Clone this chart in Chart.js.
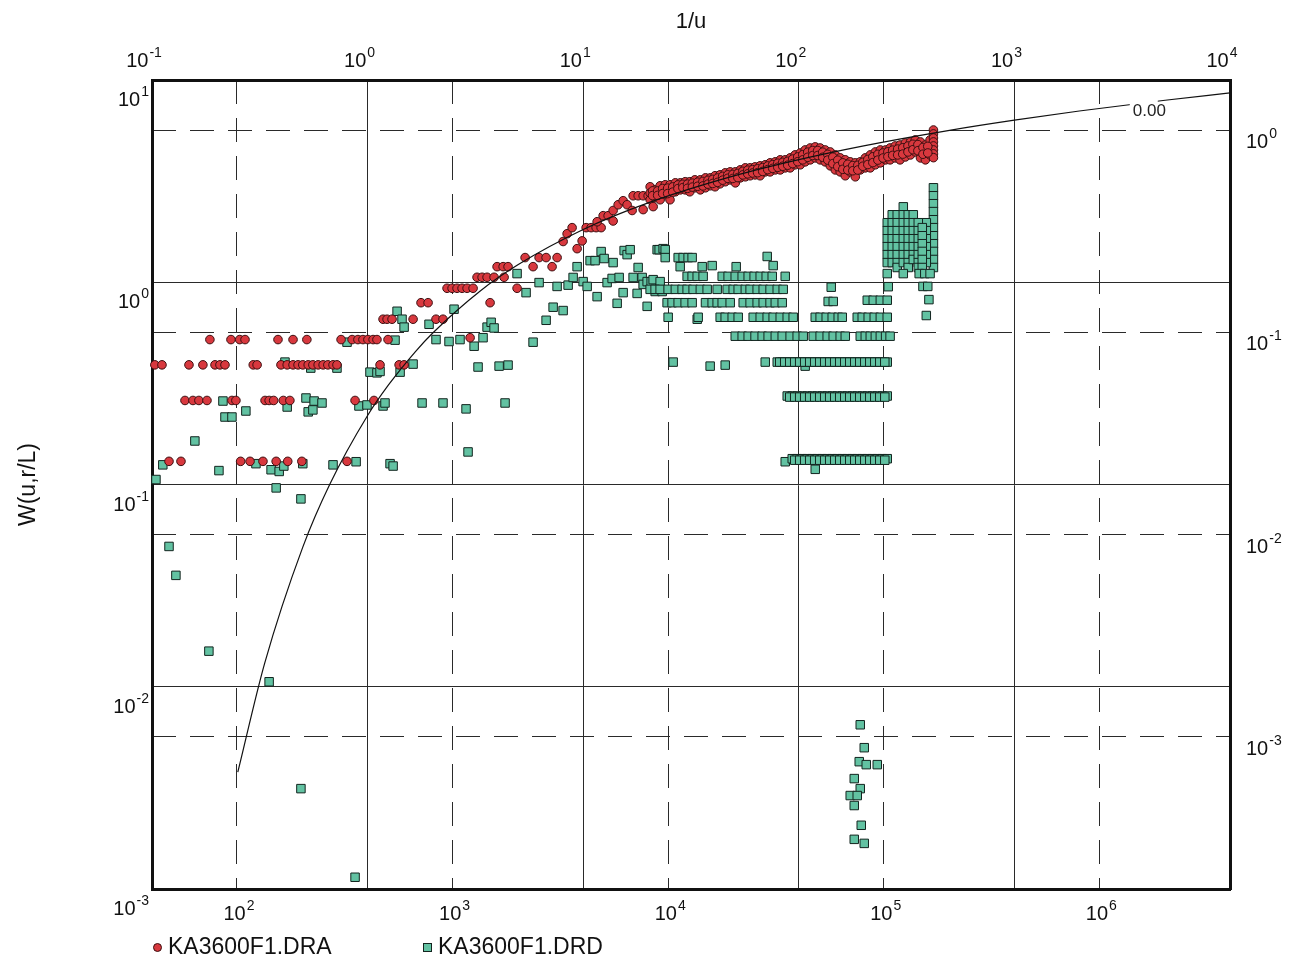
<!DOCTYPE html>
<html>
<head>
<meta charset="utf-8">
<title>KA3600F1 type curve</title>
<script src="https://cdn.jsdelivr.net/npm/chart.js"></script>
<style>
  body { margin: 0; background: #fff; }
  #wrap { position: relative; width: 1308px; height: 960px; }
  .lg { position: absolute; font: 23px "Liberation Sans", Arial, sans-serif; line-height: 23px; color: #111; }
  .mk { position: absolute; width: 7px; height: 7px; }
  .dot { border-radius: 50%; background: #d8383e; border: 1px solid #3b0f10; }
  .sq { background: #62c2a2; border: 1px solid #13251f; }
</style>
</head>
<body>
<div id="wrap">
  <canvas id="chart"></canvas>
  <span class="mk dot" style="left:153px;top:943px"></span>
  <span class="lg" style="left:168px;top:935px">KA3600F1.DRA</span>
  <span class="mk sq" style="left:423px;top:943px"></span>
  <span class="lg" style="left:438px;top:935px">KA3600F1.DRD</span>
</div>
<script>
// axis ranges and decade ticks
const timeTicks = [1e2, 1e3, 1e4, 1e5, 1e6];
const invUTicks = [0.1, 1, 10, 100, 1000, 10000];
const wTicks = [0.001, 0.01, 0.1, 1, 10];
const drawdownTicks = [0.001, 0.01, 0.1, 1];

// Theis type curve (r/L = 0.00), 1/u vs W
const curveInvU = [0.25, 0.333, 0.5, 0.667, 1, 1.25, 1.667, 2, 3.33, 5, 10, 20, 50, 100, 200, 500, 1000, 2000, 5000, 10000];
const curveW = [0.00378, 0.01305, 0.0489, 0.100, 0.2194, 0.3106, 0.4544, 0.5598, 0.9057, 1.2227, 1.8229, 2.4679, 3.3547, 4.0379, 4.7261, 5.6394, 6.3315, 7.0242, 7.9402, 8.6332];

// KA3600F1.DRA : time (s), drawdown
const draEarly = [
  [74.9,0.092],[93.8,0.092],[103,0.092],[109,0.092],[155,0.092],[182,0.092],[211,0.092],[304,0.092],[342,0.092],[364,0.092],[384,0.092],[405,0.092],[428,0.092],[446,0.092],[502,0.092],
  [41.6,0.069],[44.9,0.069],[59.9,0.069],[69.5,0.069],[79.1,0.069],[83.4,0.069],[88,0.069],[119,0.069],[124,0.069],[160,0.069],[171,0.069],[182,0.069],[192,0.069],[202,0.069],[214,0.069],[225,0.069],[238,0.069],[251,0.069],[264,0.069],[279,0.069],[291,0.069],[461,0.069],[565,0.069],[596,0.069],
  [57.4,0.046],[62.5,0.046],[66.6,0.046],[72.6,0.046],[94.8,0.046],[98.9,0.046],[135,0.046],[141,0.046],[148,0.046],[164,0.046],[176,0.046],[353,0.046],[432,0.046],
  [48.4,0.023],[55,0.023],[104,0.023],[115,0.023],[132,0.023],[152,0.023],[172,0.023],[200,0.023],[324,0.023]
];
const draRise = [
  [476,0.116],[497,0.116],[524,0.116],[656,0.116],[838,0.116],[903,0.116],[714,0.14],[770,0.14],
  [943,0.165],[995,0.165],[1049,0.165],[1107,0.165],[1168,0.165],[1245,0.165],[1493,0.14],[1206,0.094],[1992,0.165],
  [1299,0.187],[1371,0.187],[1446,0.187],[1558,0.187],[1734,0.187],[1609,0.211],[1716,0.211],[1809,0.211],
  [2170,0.234],[2520,0.234],[2716,0.234],[3054,0.234],[2363,0.211],[2895,0.211],
  [3257,0.281],[3399,0.307],[3585,0.329],[3782,0.259],[3990,0.283],[4165,0.329],[4392,0.329],[4633,0.329],[4888,0.329],
  [4683,0.352],[4994,0.377],[5267,0.377],[5556,0.40],[5556,0.355],[5861,0.427],[6183,0.447],[6452,0.427],[6807,0.40],[7656,0.404],
  [6880,0.473],[7258,0.473],[7656,0.473],[8076,0.473],[8520,0.473]
];
const draLate = [
  [8250,0.524],[8250,0.488],[8250,0.452],[8520,0.418],[8700,0.506],[8700,0.485],[8700,0.463],
  [9180,0.530],[9180,0.49],[9180,0.452],[9690,0.536],[9690,0.507],[9690,0.479],
  [10200,0.536],[10200,0.494],[10200,0.452],[10800,0.548],[10800,0.521],[10800,0.495],
  [11400,0.548],[11400,0.527],[11400,0.506],[12000,0.555],[12000,0.53],[12000,0.506],
  [12600,0.555],[12600,0.525],[12600,0.495],[13300,0.567],[13300,0.542],[13300,0.518],
  [14100,0.567],[14100,0.536],[14100,0.506],[14900,0.580],[14900,0.549],[14900,0.518],
  [15700,0.580],[15700,0.555],[15700,0.530],[16500,0.594],[16500,0.559],[16500,0.524],
  [17400,0.600],[17400,0.571],[17400,0.542],[18400,0.614],[18400,0.584],[18400,0.555],
  [19400,0.621],[19400,0.594],[19400,0.567],[20500,0.621],[20500,0.584],[20500,0.548],
  [21600,0.635],[21600,0.607],[21600,0.580],[22800,0.650],[22800,0.618],[22800,0.587],
  [24000,0.650],[24000,0.622],[24000,0.594],[25300,0.657],[25300,0.628],[25300,0.600],
  [26700,0.665],[26700,0.63],[26700,0.594],[28200,0.673],[28200,0.647],[28200,0.621],
  [29700,0.688],[29700,0.654],[29700,0.621],[31400,0.696],[31400,0.665],[31400,0.635],
  [33100,0.712],[33100,0.673],[33100,0.635],[34900,0.712],[34900,0.681],[34900,0.650],
  [36800,0.728],[36800,0.689],[36800,0.650],[38800,0.753],[38800,0.713],[38800,0.673],
  [41000,0.770],[41000,0.72],[41000,0.673],[43200,0.797],[43200,0.746],[43200,0.696],
  [45600,0.815],[45600,0.763],[45600,0.712],[48100,0.825],[48100,0.776],[48100,0.728],
  [50700,0.815],[50700,0.763],[50700,0.712],[53500,0.797],[53500,0.746],[53500,0.696],
  [56500,0.779],[56500,0.722],[56500,0.665],[59600,0.753],[59600,0.694],[59600,0.635],
  [62800,0.728],[62800,0.674],[62800,0.621],[66300,0.712],[66300,0.653],[66300,0.594],
  [69900,0.696],[69900,0.658],[69900,0.621],[73800,0.688],[73800,0.637],[73800,0.587],
  [77800,0.696],[77800,0.665],[77800,0.635],[82100,0.728],[82100,0.689],[82100,0.650],
  [86600,0.753],[86600,0.70],[86600,0.650],[91400,0.779],[91400,0.726],[91400,0.673],
  [96400,0.797],[96400,0.742],[96400,0.688],[102000,0.797],[102000,0.754],[102000,0.712],
  [107000,0.815],[107000,0.763],[107000,0.712],[113000,0.834],[113000,0.781],[113000,0.728],
  [119000,0.843],[119000,0.777],[119000,0.712],[126000,0.863],[126000,0.80],[126000,0.736],
  [133000,0.873],[133000,0.813],[133000,0.753],[140000,0.893],[140000,0.836],[140000,0.779],
  [148000,0.873],[148000,0.80],[148000,0.728],[156000,0.843],[156000,0.777],[156000,0.712],
  [164000,0.893],[164000,0.823],[164000,0.753],
  [170000,1.0],[170000,0.956],[170000,0.913],[170000,0.873],[170000,0.834],[170000,0.797],[170000,0.762],[170000,0.73]
];
const draLateFill = [
  [8470,0.50],[8470,0.474],[8940,0.50],[8940,0.475],[9430,0.514],[9430,0.485],[9950,0.516],[9950,0.485],
  [10500,0.523],[10500,0.493],[11100,0.535],[11100,0.513],[11700,0.539],[11700,0.519],[12300,0.54],[12300,0.515],
  [12950,0.546],[12950,0.522],[13700,0.552],[13700,0.527],[14500,0.557],[14500,0.529],[15300,0.564],[15300,0.54],
  [16100,0.57],[16100,0.544],[16950,0.579],[16950,0.551],[17900,0.59],[17900,0.565],[18900,0.60],[18900,0.577],
  [19950,0.603],[19950,0.576],[21050,0.61],[21050,0.582],[22200,0.625],[22200,0.60],[23400,0.633],[23400,0.607],
  [24650,0.637],[24650,0.613],[26000,0.643],[26000,0.615],[27450,0.652],[27450,0.624],[28950,0.664],[28950,0.637],
  [30550,0.674],[30550,0.646],[32250,0.685],[32250,0.654],[34000,0.692],[34000,0.662],[35850,0.70],[35850,0.67],
  [37800,0.718],[37800,0.682],[39900,0.736],[39900,0.697],[42100,0.755],[42100,0.712],[44400,0.777],[44400,0.733],
  [46850,0.792],[46850,0.748],[49400,0.792],[49400,0.748],[52100,0.777],[52100,0.733],[55000,0.758],[55000,0.71],
  [58050,0.734],[58050,0.682],[61200,0.709],[61200,0.659],[64550,0.688],[64550,0.639],[68100,0.677],[68100,0.634],
  [71850,0.667],[71850,0.629],[75800,0.669],[75800,0.634],[79950,0.692],[79950,0.662],[84350,0.715],[84350,0.675],
  [89000,0.737],[89000,0.69],[93900,0.758],[93900,0.71],[99200,0.77],[99200,0.727],[104500,0.78],[104500,0.738],
  [110000,0.795],[110000,0.749],[116000,0.805],[116000,0.753],[122500,0.817],[122500,0.76],[129500,0.833],[129500,0.779],
  [136500,0.85],[136500,0.799],[144000,0.847],[144000,0.79],[152000,0.82],[152000,0.759],[160000,0.83],[160000,0.77]
];

// KA3600F1.DRD : time (s), drawdown
const drdScatter = [
  [42.1,0.0187],[45.3,0.0221],[48.4,0.00873],[52.1,0.00628],[63.8,0.029],[74.1,0.00265],[82.5,0.0207],[86.1,0.0457],[88,0.0381],[94.8,0.0381],
  [110,0.0408],[122.5,0.0224],[141,0.00187],[144,0.0209],[152,0.017],[157,0.0205],[165,0.0218],[167,0.0712],[171,0.0427],[198,0.015],[198,0.000554],
  [202,0.0224],[209,0.0473],[214,0.0404],[220,0.0665],[225,0.0413],[228,0.0457],[248,0.0447],[279,0.0221],[291,0.0665],[324,0.0893],[353,0.000202],
  [357,0.0229],[368,0.0432],[401,0.0437],[414,0.0635],[446,0.063],[461,0.064],[476,0.0432],[486,0.0447],[513,0.0224],[530,0.0218],[541,0.0914],
  [553,0.127],[571,0.0635],[583,0.116],[596,0.106],[656,0.0696],[722,0.0447],[778,0.1095],[838,0.092],[903,0.0447],[963,0.09],[1016,0.13],
  [1083,0.092],[1155,0.0418],[1180,0.0256],[1259,0.0853],[1313,0.0673],[1385,0.094],[1446,0.106],[1510,0.112],[1558,0.105],[1644,0.068],
  [1752,0.0447],[1809,0.0688],[1992,0.195],[2193,0.157],[2363,0.0893],[2520,0.176],[2716,0.1146],[2927,0.133],[3054,0.1685],[3257,0.128],
  [3436,0.171],[3624,0.1866],[3782,0.211],[4033,0.178],[4210,0.1685],[4345,0.226],[4583,0.226],[4683,0.15],[4888,0.2506],[5047,0.2315],
  [5210,0.176],[5497,0.1845],[5556,0.221],[5800,0.139],[5925,0.1866],[6183,0.157],[6250,0.2535],[6452,0.242],[6664,0.256],[6880,0.1866],
  [7180,0.1556],[7258,0.209],[7575,0.1866],[7656,0.1724],[7991,0.178],[7991,0.1343],[8340,0.178],[8520,0.182],[8705,0.159],[9180,0.178],
  [9380,0.159],[10550,0.0712],[13640,0.116],[15660,0.068],[18390,0.0688],[28200,0.0712],[43200,0.068],[34910,0.0229],[48100,0.021],
  [8890,0.256],[9085,0.256],[9480,0.259],[9690,0.256],[9690,0.234],[11130,0.234],[11740,0.234],[12380,0.234],[12920,0.234],[11370,0.211],
  [14380,0.211],[16000,0.2136],[20680,0.211],[28800,0.237],[30700,0.2136]
];
const drdRowHigh = [
  [8250,0.163],[8700,0.163],[9180,0.163],[10000,0.163],[10800,0.163],[11610,0.163],[12250,0.163],[13060,0.163],[14100,0.163],[15170,0.163],
  [16880,0.163],[18780,0.163],[20030,0.163],[21130,0.163],[22800,0.163],[24000,0.163],[25880,0.163],[27600,0.163],[29700,0.163],[32060,0.163],
  [34170,0.163],[57060,0.167],[104900,0.168],
  [12250,0.189],[12920,0.189],[13640,0.189],[14530,0.189],[17810,0.189],[18980,0.189],[20470,0.189],[22050,0.189],[23510,0.189],[25060,0.189],
  [26730,0.189],[28500,0.189],[30390,0.189],[34910,0.189],
  [9890,0.140],[10430,0.140],[11130,0.140],[11990,0.140],[12920,0.140],[14900,0.140],[16000,0.140],[16880,0.140],[17810,0.140],[19400,0.140],
  [22290,0.140],[24000,0.140],[25880,0.140],[27600,0.140],[29700,0.140],[31400,0.140],[33810,0.140],[55240,0.142],[58310,0.142],[83850,0.144],
  [89400,0.144],[96400,0.144],[103800,0.144]
];
const drdRowMid = [
  [10000,0.1186],[13780,0.1186],[17430,0.1186],[18390,0.1186],[19820,0.1186],[21130,0.1186],[24800,0.1186],[26730,0.1186],[28800,0.1186],[30700,0.1186],
  [33100,0.1186],[35670,0.1186],[38020,0.1186],[48100,0.1186],[50700,0.1186],[54100,0.1186],[57680,0.1186],[61500,0.1186],[64190,0.1186],[75340,0.1186],
  [79480,0.1186],[84730,0.1186],[90360,0.1186],[96400,0.1186],[103800,0.1186],[157500,0.121],
  [20470,0.0956],[22050,0.0956],[23510,0.0956],[25300,0.0956],[27300,0.0956],[29100,0.0956],[31400,0.0956],[33810,0.0956],[36800,0.0956],[39680,0.0956],
  [42310,0.0956],[47090,0.0956],[50700,0.0956],[54660,0.0956],[58310,0.0956],[62800,0.0956],[66300,0.0956],[77800,0.0956],[82100,0.0956],[86600,0.0956],
  [91400,0.0956],[96400,0.0956],[102000,0.0956],[107000,0.0956]
];
const drdRowLow = [
  [32060,0.0712],[33810,0.0712],[35670,0.0712],[37630,0.0712],[39680,0.0712],[41850,0.0712],[44160,0.0712],[46580,0.0712],[49140,0.0712],[51830,0.0712],
  [54660,0.0712],[57680,0.0712],[60840,0.0712],[64190,0.0712],[67710,0.0712],[71430,0.0712],[75340,0.0712],[79480,0.0712],[83850,0.0712],[88450,0.0712],
  [93300,0.0712],[98400,0.0712],[103800,0.0712],
  [35670,0.0484],[37630,0.0484],[39680,0.0484],[41850,0.0484],[44160,0.0484],[46580,0.0484],[49140,0.0484],[51830,0.0484],[54660,0.0484],[57680,0.0484],
  [60840,0.0484],[64190,0.0484],[67710,0.0484],[71430,0.0484],[75340,0.0484],[79480,0.0484],[83850,0.0484],[88450,0.0484],[93300,0.0484],[98400,0.0484],
  [103800,0.0484],
  [37630,0.0237],[39680,0.0237],[41850,0.0237],[44160,0.0237],[46580,0.0237],[49140,0.0237],[51830,0.0237],[54660,0.0237],[57680,0.0237],[60840,0.0237],
  [64190,0.0237],[67710,0.0237],[71430,0.0237],[75340,0.0237],[79480,0.0237],[83850,0.0237],[88450,0.0237],[93300,0.0237],[98400,0.0237],[103800,0.0237]
];
const drdRowFill = [
  [32930,0.0712],[34730,0.0712],[36640,0.0712],[38640,0.0712],[40750,0.0712],[42990,0.0712],[45350,0.0712],[47840,0.0712],[50470,0.0712],[53230,0.0712],
  [56150,0.0712],[59240,0.0712],[62490,0.0712],[65930,0.0712],[69540,0.0712],[73360,0.0712],[77380,0.0712],[81640,0.0712],[86120,0.0712],[90840,0.0712],
  [95820,0.0712],[101100,0.0712],
  [36640,0.0478],[38640,0.0478],[40750,0.0478],[42990,0.0478],[45350,0.0478],[47840,0.0478],[50470,0.0478],[53230,0.0478],[56150,0.0478],[59240,0.0478],
  [62490,0.0478],[65930,0.0478],[69540,0.0478],[73360,0.0478],[77380,0.0478],[81640,0.0478],[86120,0.0478],[90840,0.0478],[95820,0.0478],[101100,0.0478],
  [38640,0.0233],[40750,0.0233],[42990,0.0233],[45350,0.0233],[47840,0.0233],[50470,0.0233],[53230,0.0233],[56150,0.0233],[59240,0.0233],[62490,0.0233],
  [65930,0.0233],[69540,0.0233],[73360,0.0233],[77380,0.0233],[81640,0.0233],[86120,0.0233],[90840,0.0233],[95820,0.0233],[101100,0.0233]
];
const drdCluster = [
  [170000,0.518],[170000,0.473],[170000,0.432],[170000,0.395],[170000,0.360],[170000,0.329],[170000,0.300],[170000,0.274],[170000,0.251],[170000,0.229],[170000,0.209],
  [157500,0.348],[157500,0.318],[157500,0.290],[157500,0.265],[157500,0.242],[157500,0.221],
  [103800,0.348],[103800,0.318],[103800,0.290],[103800,0.265],[103800,0.242],[103800,0.221],
  [109500,0.381],[109500,0.348],[109500,0.318],[109500,0.290],[109500,0.265],[109500,0.242],[109500,0.221],
  [115500,0.381],[115500,0.348],[115500,0.318],[115500,0.290],[115500,0.265],[115500,0.242],[115500,0.221],[115500,0.209],
  [123200,0.417],[123200,0.381],[123200,0.348],[123200,0.318],[123200,0.290],[123200,0.265],[123200,0.242],[123200,0.221],
  [129900,0.381],[129900,0.348],[129900,0.318],[129900,0.290],[129900,0.265],[129900,0.242],[129900,0.221],[129900,0.209],
  [137100,0.381],[137100,0.348],[137100,0.318],[137100,0.290],[137100,0.265],[137100,0.242],[137100,0.229],
  [144600,0.348],[144600,0.318],[144600,0.290],[144600,0.265],[144600,0.242],[144600,0.221],[144600,0.209],
  [150900,0.329],[150900,0.300],[150900,0.274],[150900,0.251],[150900,0.229],[150900,0.209],
  [103800,0.195],[123200,0.195],[146000,0.195],[155000,0.195],[164000,0.195],[152000,0.1685],[160000,0.1685],[162000,0.145]
];
const drdLate = [
  [77800,0.001146],[81200,0.000883],[76960,0.000753],[82950,0.000728],[93300,0.000728],[72970,0.000621],[77800,0.000554],
  [69900,0.000512],[75340,0.000512],[72970,0.000457],[78640,0.000365],[72970,0.000311],[81200,0.000297]
];

// where the 0.00 label sits on the curve
const curveLabel = { text: '0.00', invU: 3540, w: 6.64 };

const FONT = '"Liberation Sans", Arial, Helvetica, sans-serif';
const toXY = arr => arr.map(p => ({ x: p[0], y: p[1] }));

function drawPower(ctx, value, x, y, align) {
  const exp = String(Math.round(Math.log10(value)));
  ctx.font = '20px ' + FONT;
  const wBase = ctx.measureText('10').width;
  ctx.font = '14px ' + FONT;
  const wExp = ctx.measureText(exp).width;
  const total = wBase + 1 + wExp;
  let left = x;
  if (align === 'center') left = x - total / 2;
  if (align === 'right') left = x - total;
  ctx.fillStyle = '#111';
  ctx.textAlign = 'left';
  ctx.textBaseline = 'alphabetic';
  ctx.font = '20px ' + FONT;
  ctx.fillText('10', left, y);
  ctx.font = '14px ' + FONT;
  ctx.fillText(exp, left + wBase + 1, y - 10);
}

// decade labels with superscript exponents
const powerLabels = {
  id: 'powerLabels',
  afterDraw(chart) {
    const { ctx, chartArea, scales } = chart;
    ctx.save();
    scales.x2.ticks.forEach(t => drawPower(ctx, t.value, scales.x2.getPixelForValue(t.value) - 8, chartArea.top - 13, 'center'));
    scales.x.ticks.forEach(t => drawPower(ctx, t.value, scales.x.getPixelForValue(t.value) + 2, chartArea.bottom + 31, 'center'));
    scales.y.ticks.forEach(t => drawPower(ctx, t.value, chartArea.left - 3, scales.y.getPixelForValue(t.value) + 26, 'right'));
    scales.y2.ticks.forEach(t => drawPower(ctx, t.value, chartArea.right + 16, scales.y2.getPixelForValue(t.value) + 18, 'left'));
    ctx.restore();
  }
};

// curve parameter label, breaking the line under it
const curveTag = {
  id: 'curveTag',
  afterDatasetsDraw(chart) {
    const { ctx, scales } = chart;
    const x = scales.x2.getPixelForValue(curveLabel.invU);
    const y = scales.y.getPixelForValue(curveLabel.w);
    ctx.save();
    ctx.fillStyle = '#fff';
    ctx.fillRect(x - 3, y - 24, 28, 26);
    ctx.fillStyle = '#222';
    ctx.font = '17px ' + FONT;
    ctx.textAlign = 'left';
    ctx.textBaseline = 'alphabetic';
    ctx.fillText(curveLabel.text, x, y);
    ctx.restore();
  }
};

function logAxis(position, min, max, ticks, dashed, size) {
  const horizontal = position === 'top' || position === 'bottom';
  return {
    type: 'logarithmic',
    position: position,
    min: min,
    max: max,
    afterBuildTicks: axis => { axis.ticks = ticks.map(v => ({ value: v })); },
    afterFit: axis => { if (horizontal) axis.height = size; else axis.width = size; },
    ticks: { display: false },
    grid: { color: '#2a2a2a', lineWidth: 1, drawTicks: false },
    border: { display: true, color: '#111', width: 3, dash: dashed ? [24, 14] : [] }
  };
}

const scales = {
  x: logAxis('bottom', 40.36, 4.036e6, timeTicks, true, 71),
  x2: logAxis('top', 0.1, 1e4, invUTicks, false, 80),
  y: logAxis('left', 1e-3, 10, wTicks, false, 152),
  y2: logAxis('right', 1.767e-4, 1.767, drawdownTicks, true, 78)
};
scales.x2.title = { display: true, text: '1/u', color: '#111', font: { family: FONT, size: 22 }, padding: { top: 9, bottom: 0 } };
scales.y.title = { display: true, text: 'W(u,r/L)', color: '#111', font: { family: FONT, size: 23 }, padding: { top: 15, bottom: 0 } };

new Chart(document.getElementById('chart'), {
  type: 'scatter',
  data: {
    datasets: [
      {
        label: 'r/L = 0.00',
        data: curveInvU.map((v, i) => ({ x: v, y: curveW[i] })),
        xAxisID: 'x2', yAxisID: 'y',
        showLine: true, borderColor: '#111', borderWidth: 1.2,
        pointRadius: 0, cubicInterpolationMode: 'monotone', order: 0
      },
      {
        label: 'KA3600F1.DRA',
        data: toXY(draEarly.concat(draRise, draLate, draLateFill)),
        xAxisID: 'x', yAxisID: 'y2',
        pointStyle: 'circle', pointRadius: 4.3,
        backgroundColor: '#d8383e', borderColor: '#3b0f10', borderWidth: 1,
        clip: false, order: 1
      },
      {
        label: 'KA3600F1.DRD',
        data: toXY(drdScatter.concat(drdRowHigh, drdRowMid, drdRowLow, drdRowFill, drdCluster, drdLate)),
        xAxisID: 'x', yAxisID: 'y2',
        pointStyle: 'rect', pointRadius: 6,
        backgroundColor: '#62c2a2', borderColor: '#13251f', borderWidth: 1,
        clip: false, order: 2
      }
    ]
  },
  options: {
    responsive: true,
    maintainAspectRatio: false,
    animation: false,
    layout: { padding: 0 },
    plugins: { legend: { display: false }, tooltip: { enabled: false } },
    scales: scales
  },
  plugins: [curveTag, powerLabels]
});
</script>
</body>
</html>
